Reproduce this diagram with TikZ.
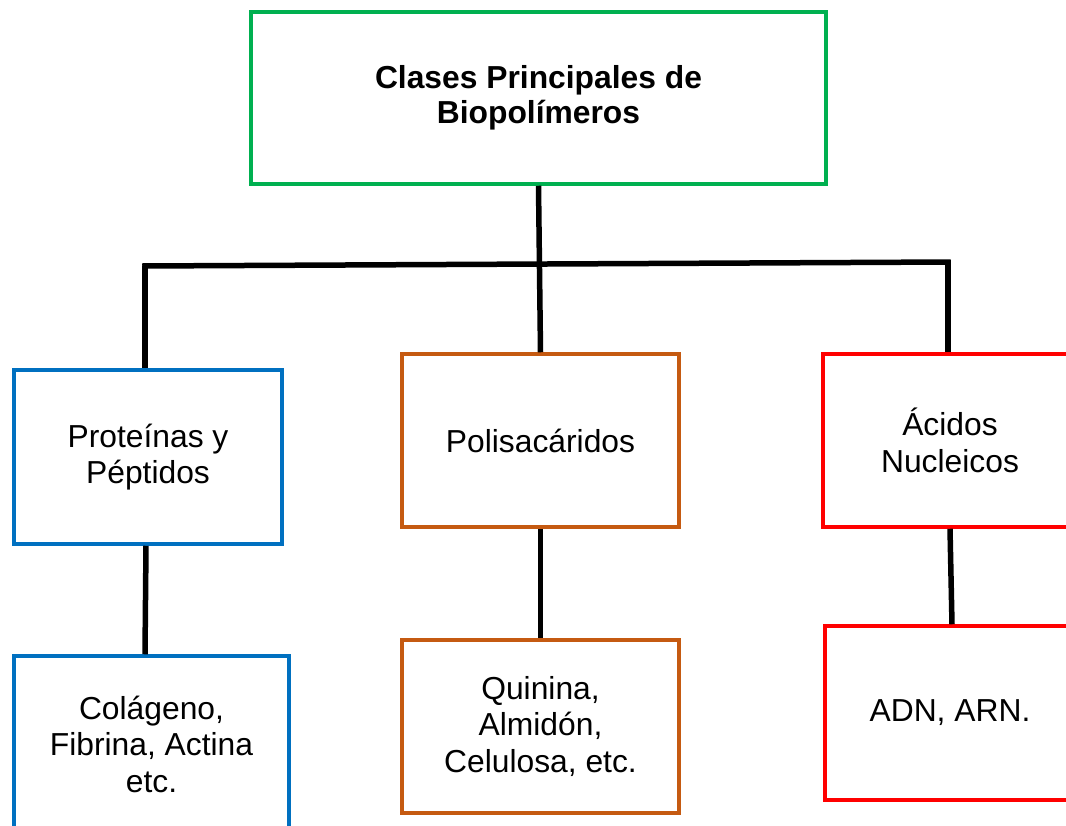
\documentclass[tikz,border=0pt]{standalone}
\usepackage{fontspec}
\setmainfont{Liberation Sans}
\definecolor{cgreen}{RGB}{0,176,80}
\definecolor{cblue}{RGB}{0,112,192}
\definecolor{corange}{RGB}{197,90,17}
\definecolor{cred}{RGB}{255,0,0}
\begin{document}
\begin{tikzpicture}[x=1pt,y=-1pt,
  box/.style={draw, line width=3.5pt, rectangle, align=center, inner sep=0pt,
    font=\fontsize{31.8}{36.5}\selectfont},
  conn/.style={line width=5.5pt, black}]
\useasboundingbox (0,0) rectangle (1066,825);
\node[box, draw=cgreen, minimum width=575, minimum height=172,
  font=\fontsize{31.8}{35}\selectfont\bfseries] (top) at (538.5,98) {Clases Principales de\\Biopolímeros};
\node[box, draw=cblue, minimum width=268, minimum height=174] (prot) at (148,457) {Proteínas y\\Péptidos};
\node[box, draw=corange, minimum width=277, minimum height=173] (poli) at (540.5,440.5) {Polisacáridos};
\node[box, draw=cred, minimum width=254, minimum height=173] (acid) at (950,440.5) {Ácidos\\Nucleicos};
\node[box, draw=cblue, minimum width=275, minimum height=176] (col) at (151.5,744) {Colágeno,\\Fibrina, Actina\\etc.};
\node[box, draw=corange, minimum width=277, minimum height=173] (qui) at (540.5,726.5) {Quinina,\\Almidón,\\Celulosa, etc.};
\node[box, draw=cred, minimum width=250, minimum height=174] (adn) at (950,713) {ADN, ARN.};
\coordinate (hl) at (145,266);
\coordinate (hr) at (948,262);
\draw[conn] (top.south) -- (poli.north);
\draw[conn] ([xshift=-2.75pt]hl) -- ([xshift=2.75pt]hr);
\draw[conn] (hl) -- (prot.north -| hl);
\draw[conn] (hr) -- (acid.north -| hr);
\draw[conn] (prot.south -| 146,0) -- (col.north -| 145,0);
\draw[conn] (poli.south) -- (qui.north);
\draw[conn] (acid.south) -- ([xshift=2pt]adn.north);
\end{tikzpicture}
\end{document}
